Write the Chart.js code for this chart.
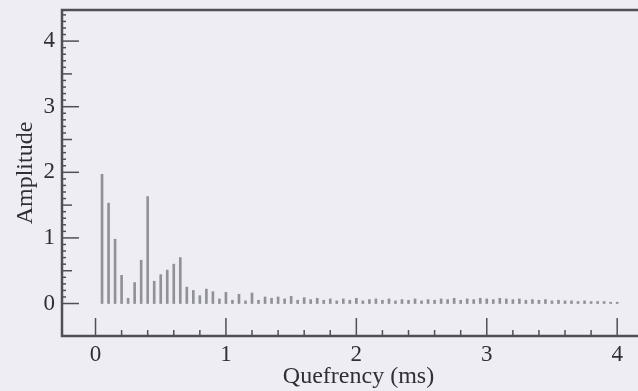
<!DOCTYPE html>
<html>
<head>
<meta charset="utf-8">
<script src="https://cdn.jsdelivr.net/npm/chart.js@4"></script>
<style>
  html, body { margin: 0; padding: 0; overflow: hidden; background: #eeedf3; }
  canvas { display: block; }
</style>
</head>
<body>
<canvas id="cepstrum" width="680" height="391"></canvas>
<script>
// quefrency of each cepstral sample (ms)
const quefrency = [
  0.05, 0.10, 0.15, 0.20, 0.25, 0.30, 0.35, 0.40, 0.45, 0.50,
  0.55, 0.60, 0.65, 0.70, 0.75, 0.80, 0.85, 0.90, 0.95, 1.00,
  1.05, 1.10, 1.15, 1.20, 1.25, 1.30, 1.35, 1.40, 1.45, 1.50,
  1.55, 1.60, 1.65, 1.70, 1.75, 1.80, 1.85, 1.90, 1.95, 2.00,
  2.05, 2.10, 2.15, 2.20, 2.25, 2.30, 2.35, 2.40, 2.45, 2.50,
  2.55, 2.60, 2.65, 2.70, 2.75, 2.80, 2.85, 2.90, 2.95, 3.00,
  3.05, 3.10, 3.15, 3.20, 3.25, 3.30, 3.35, 3.40, 3.45, 3.50,
  3.55, 3.60, 3.65, 3.70, 3.75, 3.80, 3.85, 3.90, 3.95, 4.00
];

// amplitude
const amplitude = [
  1.97, 1.53, 0.98, 0.43, 0.08, 0.32, 0.66, 1.63, 0.34, 0.44,
  0.51, 0.60, 0.70, 0.25, 0.20, 0.12, 0.22, 0.18, 0.07, 0.17,
  0.05, 0.14, 0.04, 0.16, 0.05, 0.10, 0.08, 0.10, 0.07, 0.11,
  0.05, 0.09, 0.06, 0.08, 0.05, 0.07, 0.04, 0.07, 0.05, 0.08,
  0.04, 0.06, 0.07, 0.05, 0.07, 0.04, 0.06, 0.05, 0.07, 0.04,
  0.06, 0.05, 0.07, 0.06, 0.08, 0.05, 0.07, 0.06, 0.08, 0.07,
  0.06, 0.08, 0.07, 0.06, 0.07, 0.05, 0.06, 0.05, 0.06, 0.04,
  0.05, 0.04, 0.04, 0.03, 0.04, 0.03, 0.03, 0.03, 0.02, 0.02
];

const xTicks = [0, 1, 2, 3, 4];
const yTicks = [0, 1, 2, 3, 4];

const serif = '"Liberation Serif", "DejaVu Serif", serif';
const inkColor = '#4f4f56';
const textColor = '#2f2f35';

// рамка и внутренние засечки, как в книжном графике
const framePlugin = {
  id: 'frame',
  beforeDraw(chart) {
    const c = chart.ctx;
    c.save();
    c.fillStyle = '#eeedf3';
    c.fillRect(0, 0, chart.width, chart.height);
    c.restore();
  },
  afterDraw(chart) {
    const c = chart.ctx;
    const a = chart.chartArea;
    const xs = chart.scales.x;
    const ys = chart.scales.y;
    c.save();
    c.strokeStyle = inkColor;
    c.lineWidth = 1.5;
    // засечки по Y
    for (let i = 0; i <= 44; i++) {
      const v = i / 10;
      const py = ys.getPixelForValue(v);
      const len = i % 10 === 0 ? 17 : (i % 5 === 0 ? 10 : 4);
      c.beginPath();
      c.moveTo(a.left, py);
      c.lineTo(a.left + len, py);
      c.stroke();
    }
    // засечки по X
    for (let i = 0; i <= 21; i++) {
      const v = i / 5;
      const px = xs.getPixelForValue(v);
      const len = i % 5 === 0 ? 18 : 6;
      c.beginPath();
      c.moveTo(px, a.bottom);
      c.lineTo(px, a.bottom - len);
      c.stroke();
    }
    // рамка
    c.lineWidth = 2.5;
    c.beginPath();
    c.moveTo(chart.width, a.top);
    c.lineTo(a.left, a.top);
    c.lineTo(a.left, a.bottom);
    c.lineTo(chart.width, a.bottom);
    c.stroke();
    c.restore();
  }
};

new Chart(document.getElementById('cepstrum'), {
  type: 'bar',
  data: {
    datasets: [{
      data: quefrency.map((q, i) => ({ x: q, y: amplitude[i] })),
      backgroundColor: '#919199',
      borderWidth: 0,
      barThickness: 2,
      grouped: false
    }]
  },
  options: {
    responsive: false,
    animation: false,
    layout: { padding: { top: 10, right: 25, left: 0, bottom: 0 } },
    plugins: { legend: { display: false }, tooltip: { enabled: false } },
    scales: {
      x: {
        type: 'linear',
        offset: false,
        min: -0.257,
        max: 4.29,
        grid: { display: false, drawTicks: false, offset: false },
        border: { display: false },
        afterFit: s => { s.height = 55; s.paddingLeft = 0; s.paddingRight = 0; },
        afterBuildTicks: s => { s.ticks = xTicks.map(v => ({ value: v })); },
        ticks: {
          padding: 5,
          color: textColor,
          font: { family: serif, size: 23 },
          maxRotation: 0,
          autoSkip: false
        },
        title: {
          display: true,
          text: 'Quefrency (ms)',
          color: textColor,
          font: { family: serif, size: 24, lineHeight: 1.2 },
          padding: { top: 0, bottom: 0 }
        }
      },
      y: {
        min: -0.495,
        max: 4.474,
        grid: { display: false, drawTicks: false },
        border: { display: false },
        afterFit: s => { s.width = 62; s.paddingTop = 0; s.paddingBottom = 0; },
        afterBuildTicks: s => { s.ticks = yTicks.map(v => ({ value: v })); },
        ticks: {
          padding: 7,
          color: textColor,
          font: { family: serif, size: 23 }
        },
        title: {
          display: true,
          text: 'Amplitude',
          color: textColor,
          font: { family: serif, size: 24, lineHeight: 1.2 },
          padding: { top: 11, bottom: 0 }
        }
      }
    }
  },
  plugins: [framePlugin]
});
</script>
</body>
</html>
